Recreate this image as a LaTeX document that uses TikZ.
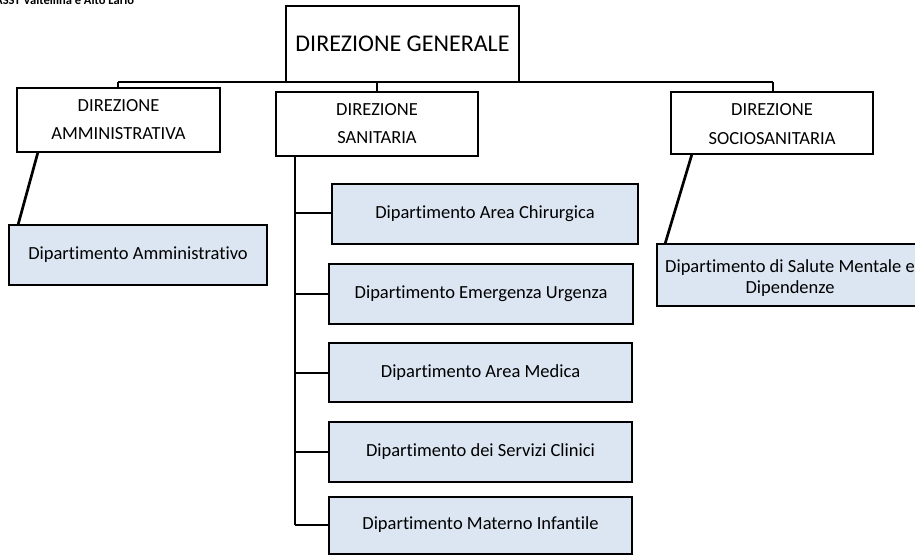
\documentclass[tikz,border=0pt]{standalone}
\usepackage{fontspec}
\setmainfont{Carlito}[Ligatures={NoCommon}]
\definecolor{deptfill}{HTML}{DCE6F2}
\begin{document}
\begin{tikzpicture}[x=1pt,y=-1pt,
  lw/.style={line width=2.7pt},
  dirbox/.style={draw,lw,fill=white},
  deptbox/.style={draw,lw,fill=deptfill},
  conn/.style={lw},
  dtxt/.style={font=\fontsize{18.5}{22}\selectfont,inner sep=0pt},
  ptxt/.style={font=\fontsize{18.5}{22}\selectfont,inner sep=0pt}]
\useasboundingbox (0,0) rectangle (915,556);
% header text
\node[anchor=base west,inner sep=0pt,font=\bfseries\fontsize{12.5}{14}\selectfont] (hdr) at (-5,5) {ASST Valtellina e Alto Lario};
% direzione generale
\draw[dirbox] (286,6) rectangle (519,82);
\node[inner sep=0pt] (dg) at (402.5,44) {\fontsize{24}{28}\selectfont DIREZIONE GENERALE};
% horizontal bus
\coordinate (busL) at (118,82);
\coordinate (busR) at (773,82);
\draw[conn] (busL) -- (busR);
% level 2 boxes
\draw[dirbox] (17,88) rectangle (220,152);
\node[dtxt] (amm1) at (118.5,106) {DIREZIONE};
\node[dtxt] (amm2) at (118.5,134) {AMMINISTRATIVA};
\draw[dirbox] (276,92) rectangle (478,156);
\node[dtxt] (san1) at (377,110) {DIREZIONE};
\node[dtxt] (san2) at (377,138) {SANITARIA};
\draw[dirbox] (671,92) rectangle (873,154);
\node[dtxt] (soc1) at (772,110) {DIREZIONE};
\node[dtxt] (soc2) at (772,139) {SOCIOSANITARIA};
% drops
\draw[conn] (busL) -- (118,88);
\draw[conn] (377,82) -- (377,92);
\draw[conn] (busR) -- (773,92);
% amministrativo
\coordinate (ammA) at (38,152);
\coordinate (ammB) at (18,225);
\draw[conn] (ammA) -- (ammB);
\draw[deptbox] (9,225) rectangle (267,285);
\node[ptxt] (dAmm) at (138,255) {Dipartimento Amministrativo};
% sociosanitaria
\coordinate (socA) at (692,154);
\coordinate (socB) at (665,244);
\draw[conn] (socA) -- (socB);
\draw[deptbox] (657,244) rectangle (925,306);
\node[align=center,inner sep=0pt,font=\fontsize{18.5}{21}\selectfont] (dSoc) at (790,278) {Dipartimento di Salute Mentale e\\Dipendenze};
% sanitaria spine
\coordinate (spT) at (295,156);
\coordinate (spB) at (295,525);
\draw[conn] (spT) -- (spB);
\draw[deptbox] (332,184) rectangle (638,244);
\node[ptxt] (d1) at (485,214) {Dipartimento Area Chirurgica};
\draw[conn] (295,213) -- (332,213);
\draw[deptbox] (329,264) rectangle (633,324);
\node[ptxt] (d2) at (481,294) {Dipartimento Emergenza Urgenza};
\draw[conn] (295,294) -- (329,294);
\draw[deptbox] (329,343) rectangle (632,402);
\node[ptxt] (d3) at (480.5,373) {Dipartimento Area Medica};
\draw[conn] (295,373) -- (329,373);
\draw[deptbox] (329,422) rectangle (632,482);
\node[ptxt] (d4) at (480.5,452) {Dipartimento dei Servizi Clinici};
\draw[conn] (295,452) -- (329,452);
\draw[deptbox] (329,497) rectangle (632,554);
\node[ptxt] (d5) at (480.5,525) {Dipartimento Materno Infantile};
\draw[conn] (spB) -- (329,525);
\end{tikzpicture}
\end{document}
